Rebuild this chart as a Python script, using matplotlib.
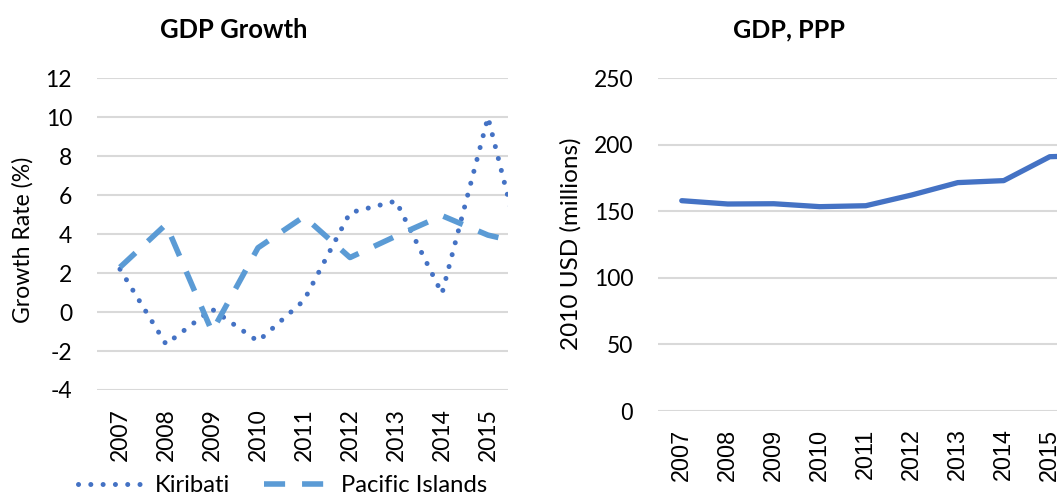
import matplotlib
matplotlib.use("Agg")
import matplotlib.pyplot as plt
from matplotlib.lines import Line2D

plt.rcParams['font.family'] = ['Lato', 'DejaVu Sans']

years = [2007, 2008, 2009, 2010, 2011, 2012, 2013, 2014, 2015, 2016]
year_labels = ['2007', '2008', '2009', '2010', '2011', '2012', '2013', '2014', '2015', '2016']

kiribati_growth = [2.2, -1.65, 0.15, -1.5, 0.6, 5.1, 5.7, 0.95, 10.0, 0.6]
pacific_growth = [2.3, 4.5, -1.0, 3.3, 4.9, 2.8, 3.9, 4.95, 3.95, 3.4]
gdp_ppp = [157.9, 155.4, 155.6, 153.4, 154.1, 162.2, 171.5, 173.0, 191.0, 192.0]

growth_ticks = [-4, -2, 0, 2, 4, 6, 8, 10, 12]
ppp_ticks = [0, 50, 100, 150, 200, 250]

W, H = 1057, 492
fig = plt.figure(figsize=(W / 100, H / 100), dpi=100)

blue_dark = '#4472C4'
blue_light = '#5B9BD5'
grid_col = '#D9D9D9'
fs_tick = 16.5

dots = (0, (0.01, 2.45))
dashes = (0, (3.8, 3.05))


def fit(txt, target_px, vertical=False):
    # rescale a text so its drawn length matches the reference
    r = fig.canvas.get_renderer()
    bb = txt.get_window_extent(r)
    length = bb.height if vertical else bb.width
    txt.set_fontsize(txt.get_fontsize() * target_px / length)
    return txt.get_fontsize()


# left panel: growth
ax1 = fig.add_axes([97 / W, (H - 390) / H, (508 - 97) / W, (390 - 78.3) / H])
ax1.plot(years, kiribati_growth, color=blue_dark, lw=3.6,
         linestyle=dots, dash_capstyle='round')
ax1.plot(years, pacific_growth, color=blue_light, lw=4,
         linestyle=dashes, dash_capstyle='butt')
ax1.set_xticks(years)
ax1.set_xticklabels(year_labels, rotation=90, fontsize=fs_tick)
ax1.set_yticks(growth_ticks)
ax1.set_yticklabels([str(t) for t in growth_ticks], fontsize=fs_tick)
ax1.set_xlim(2006.5, 2015.435)
ax1.set_ylim(-4, 12)
t1 = fig.text(234 / W, (H - 30) / H, 'GDP Growth', fontsize=18, fontweight='bold',
              ha='center', va='center')
l1 = fig.text(23 / W, (H - 240) / H, 'Growth Rate (%)', fontsize=18, rotation=90,
              ha='center', va='center')

# right panel: GDP PPP (cropped on the right like the source)
ax2 = fig.add_axes([658.3 / W, (H - 410.5) / H, (2016.5 - 2006.49) * 46 / W, (410.5 - 78.3) / H])
ax2.plot(years, gdp_ppp, color=blue_dark, lw=3.8, solid_capstyle='round')
ax2.set_xticks(years)
ax2.set_xticklabels(year_labels, rotation=90, fontsize=16.8, family='Liberation Sans')
ax2.set_yticks(ppp_ticks)
ax2.set_yticklabels([str(t) for t in ppp_ticks], fontsize=fs_tick)
ax2.get_yticklabels()[0].set_family('Liberation Sans')
ax2.set_xlim(2006.49, 2016.5)
ax2.set_ylim(0, 250)
t2 = fig.text(789 / W, (H - 30) / H, 'GDP, PPP', fontsize=18, fontweight='bold',
              ha='center', va='center')
l2 = fig.text(571 / W, (H - 244) / H, '2010 USD (millions)', fontsize=18, rotation=90,
              ha='center', va='center')

for ax in (ax1, ax2):
    for s in ax.spines.values():
        s.set_visible(False)
    ax.grid(axis='y', color=grid_col, lw=1.5)
    ax.set_axisbelow(True)
    ax.tick_params(length=0)
    ax.tick_params(axis='y', pad=18)
    ax.tick_params(axis='x', pad=13)

fig.canvas.draw()
fit(t1, 148)
fit(t2, 112)
fit(l1, 166, vertical=True)
fit(l2, 212, vertical=True)

probe = fig.text(0, 0, 'Kiribati', fontsize=18)
leg_fs = fit(probe, 75)
probe.remove()
em = leg_fs * 100 / 72

handles = [Line2D([], [], color=blue_dark, lw=3.6, linestyle=dots, dash_capstyle='round'),
           Line2D([], [], color=blue_light, lw=4, linestyle=dashes, dash_capstyle='butt')]
fig.legend(handles, ['Kiribati', 'Pacific Islands'], loc='center left',
           bbox_to_anchor=(78 / W, 6 / H), ncol=2, frameon=False, fontsize=leg_fs,
           handlelength=66 / em, handletextpad=11 / em, columnspacing=34 / em,
           borderpad=0, borderaxespad=0)

fig.savefig('out.png', dpi=100)
